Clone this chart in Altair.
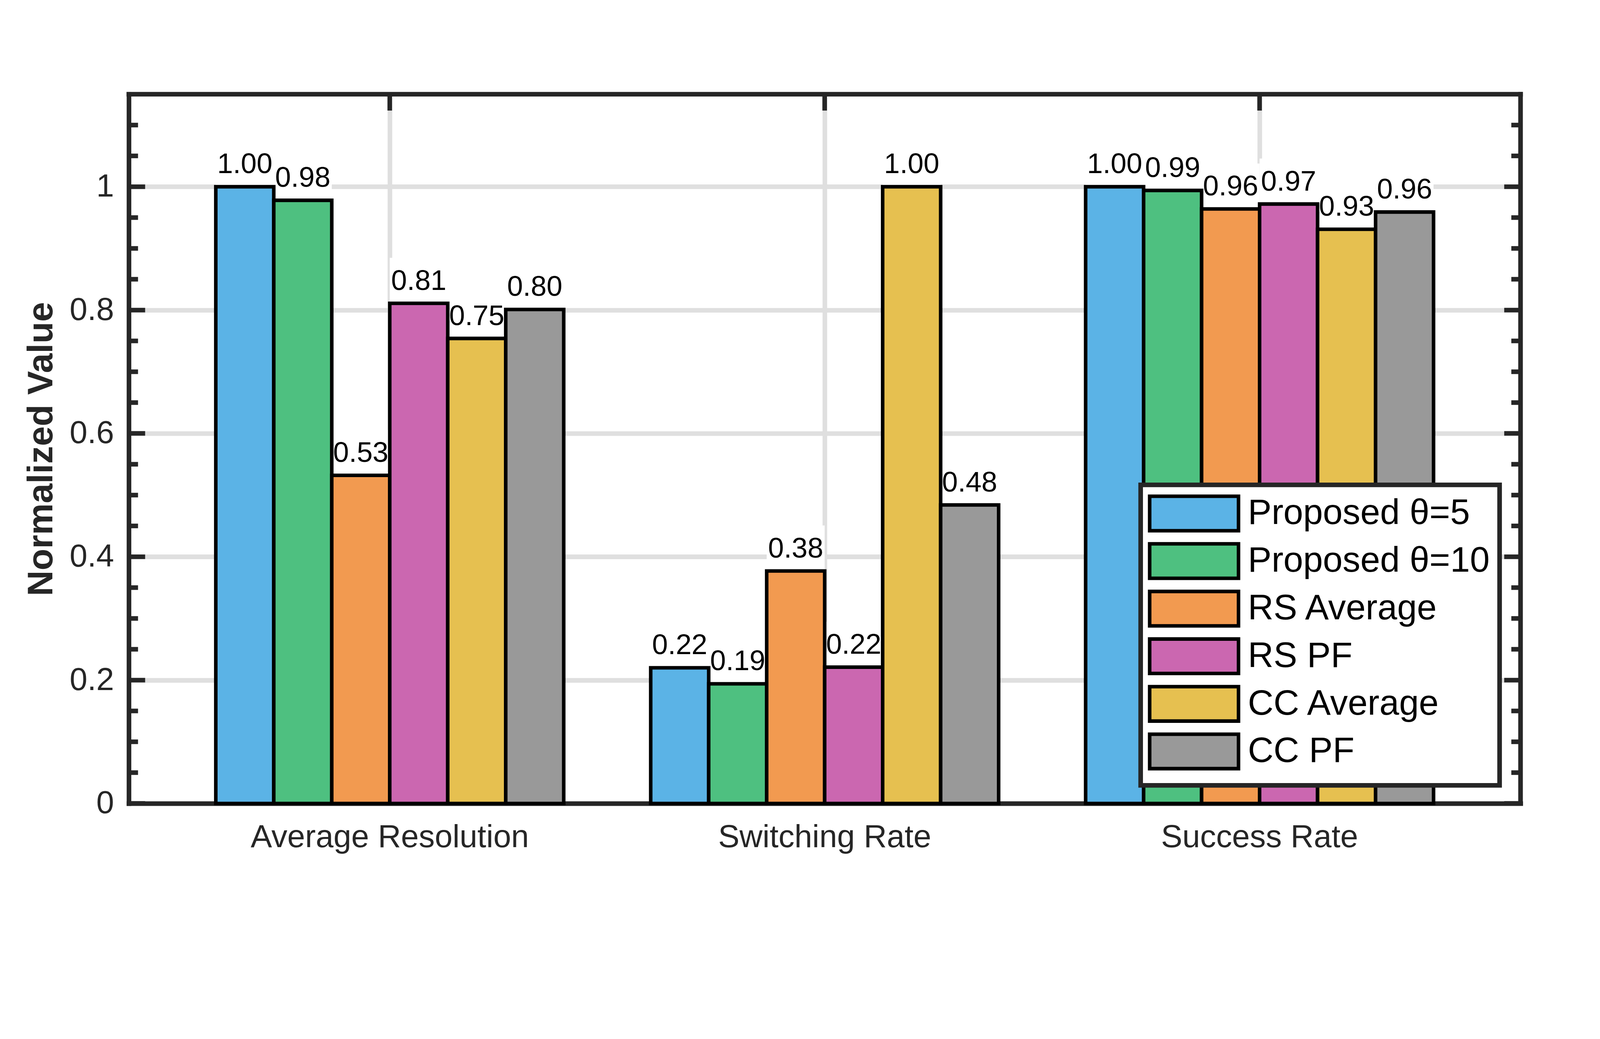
import altair as alt
import pandas as pd

# ---------------- data ----------------
categories = ["Average Resolution", "Switching Rate", "Success Rate"]
series = ["Proposed θ=5", "Proposed θ=10", "RS Average", "RS PF", "CC Average", "CC PF"]
colors = ["#5BB3E6", "#4EC080", "#F29A50", "#CB67B0", "#E6C050", "#999999"]

proposed_5 = [1.000, 0.220, 1.000]
proposed_10 = [0.978, 0.194, 0.994]
rs_average = [0.532, 0.377, 0.964]
rs_pf = [0.811, 0.221, 0.972]
cc_average = [0.754, 1.000, 0.931]
cc_pf = [0.801, 0.484, 0.959]

major_ticks = [0, 0.2, 0.4, 0.6, 0.8, 1.0]
minor_ticks = [0.05, 0.1, 0.15, 0.25, 0.3, 0.35, 0.45, 0.5, 0.55,
               0.65, 0.7, 0.75, 0.85, 0.9, 0.95, 1.05, 1.1]
y_max = 1.15

series_values = [proposed_5, proposed_10, rs_average, rs_pf, cc_average, cc_pf]
rows = []
for s, vals in zip(series, series_values):
    for c, v in zip(categories, vals):
        rows.append({"category": c, "series": s, "value": v})
df = pd.DataFrame(rows)
cat_df = pd.DataFrame({"category": categories})
major_df = pd.DataFrame({"value": major_ticks})
minor_df = pd.DataFrame({"value": minor_ticks})
one_df = pd.DataFrame({"k": [0]})

# ---------------- layout / style ----------------
W, H = 3920, 1997
FONT = "Liberation Sans"
DARK = "#262626"
LINE = 13

x_scale = alt.Scale(domain=categories, paddingInner=0.2, paddingOuter=0.2)
y_scale = alt.Scale(domain=[0, y_max], nice=False, zero=True)

x_axis = alt.Axis(title=None, grid=True, ticks=False, labelAngle=0, labelPadding=52,
                  bandPosition=0.5, labelLimit=0)
y_axis = alt.Axis(values=major_ticks, format="~g", grid=True, ticks=False,
                  labelPadding=42, title="Normalized Value", titleFontSize=100,
                  titleFontWeight="bold", titleColor=DARK, titleFont=FONT,
                  titleX=-246, titleY=H / 2, titleBaseline="middle", titleAlign="center")

x_enc = alt.X("category:N", scale=x_scale, axis=x_axis)
y_enc = alt.Y("value:Q", scale=y_scale, axis=y_axis)
xo_enc = alt.XOffset("series:N", scale=alt.Scale(domain=series, paddingInner=0, paddingOuter=0))

# white label backgrounds (drawn under bars, above grid)
boxes = alt.Chart(df).mark_bar(fill="white", y2Offset=-128).encode(
    x=x_enc, xOffset=xo_enc, y=y_enc, y2=alt.Y2("value")
)

bars = alt.Chart(df).mark_bar(stroke="black", strokeWidth=10, opacity=1).encode(
    x=x_enc,
    xOffset=xo_enc,
    y=y_enc,
    color=alt.Color(
        "series:N",
        scale=alt.Scale(domain=series, range=colors),
        legend=alt.Legend(
            title=None, orient="none", legendX=2850, legendY=1100,
            symbolType="M-2.58,-1H2.58V1H-2.58Z", symbolSize=9409,
            symbolStrokeColor="black", symbolStrokeWidth=10, symbolOpacity=1,
            labelFontSize=100, labelColor="black", labelFont=FONT, labelLimit=0,
            padding=27, rowPadding=-3, symbolOffset=70, labelOffset=98,
            fillColor="white", strokeColor=DARK,
        ),
    ),
)

labels = alt.Chart(df).mark_text(
    dy=-38, baseline="alphabetic", fontSize=80, font=FONT, color="black"
).encode(
    x=x_enc, xOffset=xo_enc, y=y_enc, text=alt.Text("value:Q", format=".2f")
)

rule_style = dict(color=DARK, strokeWidth=LINE)
left_major = alt.Chart(major_df).mark_rule(**rule_style).encode(
    y=y_enc, x=alt.value(0), x2=alt.value(46))
left_minor = alt.Chart(minor_df).mark_rule(**rule_style).encode(
    y=y_enc, x=alt.value(0), x2=alt.value(26))
right_major = alt.Chart(major_df).mark_rule(**rule_style).encode(
    y=y_enc, x=alt.value(W), x2=alt.value(W - 46))
right_minor = alt.Chart(minor_df).mark_rule(**rule_style).encode(
    y=y_enc, x=alt.value(W), x2=alt.value(W - 26))
top_ticks = alt.Chart(cat_df).mark_rule(**rule_style).encode(
    x=x_enc, y=alt.value(0), y2=alt.value(46))
frame_top = alt.Chart(one_df).mark_rule(strokeCap="square", **rule_style).encode(
    x=alt.value(0), x2=alt.value(W), y=alt.value(0))
frame_right = alt.Chart(one_df).mark_rule(strokeCap="square", **rule_style).encode(
    x=alt.value(W), y=alt.value(0), y2=alt.value(H))

chart = alt.layer(
    boxes, bars, labels, left_major, left_minor, right_major, right_minor,
    top_ticks, frame_top, frame_right
).properties(
    width=W, height=H,
    autosize=alt.AutoSizeParams(type="none"),
    padding={"left": 354, "top": 125, "right": 215, "bottom": 502},
).configure(
    font=FONT, background="white"
).configure_view(
    strokeWidth=0
).configure_axis(
    labelFont=FONT, labelFontSize=90, labelColor=DARK,
    domainColor=DARK, domainWidth=LINE, domainCap="square",
    gridColor="#DFDFDF", gridWidth=LINE,
).configure_legend(
    strokeWidth=LINE
)

chart.save("out.html", embed_options={"renderer": "svg", "actions": False})
